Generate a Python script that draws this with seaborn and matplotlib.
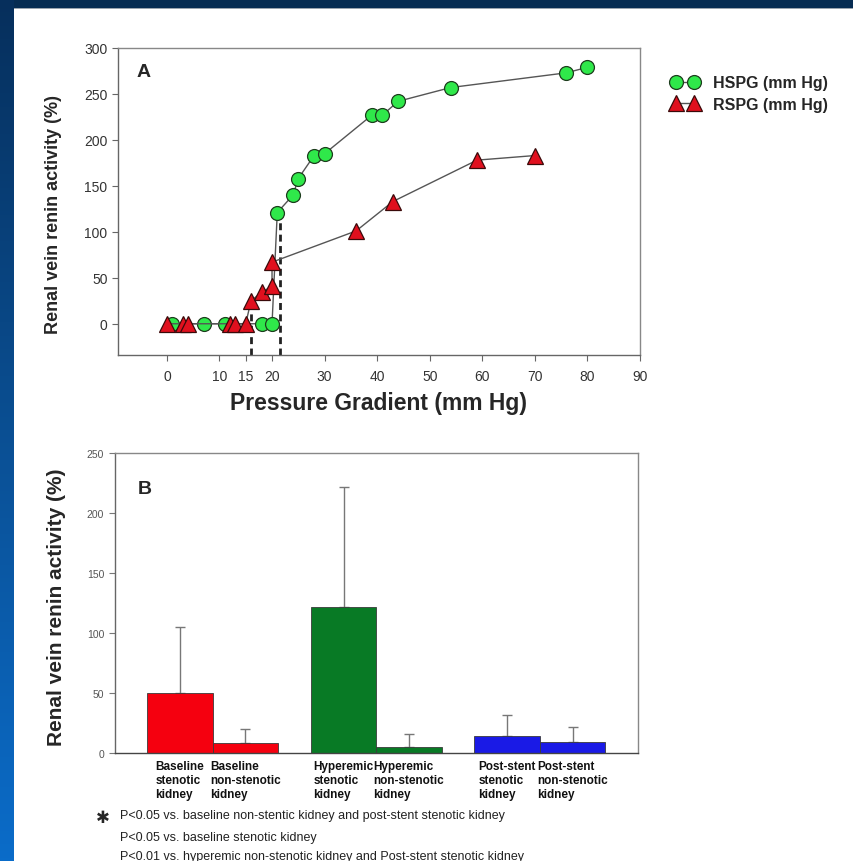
import numpy as np
import pandas as pd
import matplotlib
matplotlib.use("Agg")
import matplotlib.pyplot as plt
import seaborn as sns
from matplotlib.patches import Rectangle
from matplotlib.colors import LinearSegmentedColormap

# ---------------- data ----------------
hspg_x = [1, 7, 11, 18, 20, 21, 24, 25, 28, 30, 39, 41, 44, 54, 76, 80]
hspg_y = [0, 0, 0, 0, 0, 121, 140, 158, 183, 185, 227, 227, 242, 257, 273, 279]
rspg_x = [0, 3, 4, 12, 13, 15, 16, 18, 20, 20, 36, 43, 59, 70]
rspg_y = [0, 0, 0, 0, 0, 0, 25, 34, 41, 67, 101, 133, 178, 183]
thresholds_x = [16, 21.5]
threshold_tops = [25, 121]
xticks_a = [0, 10, 15, 20, 30, 40, 50, 60, 70, 80, 90]
yticks_a = [0, 50, 100, 150, 200, 250, 300]

bar_labels = ["Baseline\nstenotic\nkidney", "Baseline\nnon-stenotic\nkidney",
              "Hyperemic\nstenotic\nkidney", "Hyperemic\nnon-stenotic\nkidney",
              "Post-stent\nstenotic\nkidney", "Post-stent\nnon-stenotic\nkidney"]
bar_pos = [0, 1, 2.5, 3.5, 5, 6]
bar_vals = [50, 8, 122, 5, 14, 9]
bar_err = [55, 12, 100, 11, 18, 13]
bar_colors = ["#f5000f", "#f5000f", "#087a25", "#087a25", "#1a1ae6", "#1a1ae6"]
yticks_b = [0, 50, 100, 150, 200, 250]

footnotes = ["P<0.05 vs. baseline non-stentic kidney and post-stent stenotic kidney",
             "P<0.05 vs. baseline stenotic kidney",
             "P<0.01 vs. hyperemic non-stenotic kidney and Post-stent stenotic kidney"]

# ---------------- figure ----------------
sns.set_theme(style="white")
plt.rcParams["font.family"] = ["Liberation Sans", "DejaVu Sans"]

W, H = 854, 862
fig = plt.figure(figsize=(W / 100, H / 100), dpi=100)
fig.patch.set_facecolor("white")

# frame decoration
fig.add_artist(Rectangle((0, 1 - 9 / H), 1, 9 / H, transform=fig.transFigure,
                         facecolor="#062c52", edgecolor="none", zorder=0))
fig.add_artist(Rectangle((0, 1 - 10 / H), 1, 1.2 / H, transform=fig.transFigure,
                         facecolor="#9aa4ae", edgecolor="none", zorder=0))
band = fig.add_axes([0, 0, 14 / W, 1], zorder=0)
cmap = LinearSegmentedColormap.from_list("band", ["#0a6cc9", "#0a4f93", "#062f5c"])
band.imshow(np.linspace(0, 1, 256).reshape(-1, 1), aspect="auto", cmap=cmap,
            origin="lower", extent=[0, 1, 0, 1])
band.set_axis_off()

def fx(px):
    return px / W

def fy(py):
    return 1 - py / H

# ---------------- panel A ----------------
axA = fig.add_axes([fx(118), fy(356), fx(640) - fx(118), fy(49) - fy(356)])
dfh = pd.DataFrame({"x": hspg_x, "y": hspg_y})
dfr = pd.DataFrame({"x": rspg_x, "y": rspg_y})
sns.lineplot(data=dfh, x="x", y="y", ax=axA, estimator=None, sort=False,
             color="#555555", lw=1.0, marker="o", markersize=10,
             markerfacecolor="#2fe84a", markeredgecolor="#1d3d1d",
             markeredgewidth=0.9, zorder=3)
sns.lineplot(data=dfr, x="x", y="y", ax=axA, estimator=None, sort=False,
             color="#555555", lw=1.0, marker="^", markersize=11,
             markerfacecolor="#e0101e", markeredgecolor="#3a0a0a",
             markeredgewidth=0.9, zorder=4)
for tx, tt in zip(thresholds_x, threshold_tops):
    axA.plot([tx, tx], [-34, tt], ls=(0, (2.5, 1.6)), color="#222222", lw=2.0, zorder=2)

axA.set_xlim(-9.3, 90)
axA.set_ylim(-34, 300)
axA.set_xticks(xticks_a)
axA.set_yticks(yticks_a)
axA.tick_params(axis="both", which="both", direction="out", length=4, width=0.8,
                color="#666666", labelsize=10, labelcolor="#333333",
                left=True, bottom=True)
axA.tick_params(axis="x", pad=6)
for s in axA.spines.values():
    s.set_color("#888888")
    s.set_linewidth(1.0)
axA.spines["left"].set_color("#666666")
axA.spines["bottom"].set_color("#666666")
axA.set_xlabel("Pressure Gradient (mm Hg)", fontsize=16.5, fontweight="bold", labelpad=6)
axA.set_ylabel("Renal vein renin activity (%)", fontsize=13, fontweight="bold")
axA.yaxis.set_label_coords(-0.108, 0.46)
axA.text(0.035, 0.925, "A", transform=axA.transAxes, fontsize=14, fontweight="bold",
         ha="left", va="center")

# legend (outside, right)
leg = axA.legend(handles=[axA.lines[0], axA.lines[1]],
                 labels=["HSPG (mm Hg)", "RSPG (mm Hg)"],
                 loc="upper left", bbox_to_anchor=(fx(657), fy(62)),
                 bbox_transform=fig.transFigure, frameon=False,
                 prop={"weight": "bold", "size": 11.5}, handlelength=1.7,
                 handletextpad=0.9, labelspacing=0.4, numpoints=2)

# ---------------- panel B ----------------
axB = fig.add_axes([fx(114.5), fy(754), fx(638) - fx(114.5), fy(454) - fy(754)])
dfb = pd.DataFrame({"pos": bar_pos, "val": bar_vals, "label": bar_labels})
sns.barplot(data=dfb, x="pos", y="val", hue="label", palette=bar_colors,
            native_scale=True, width=1.0, ax=axB, legend=False, saturation=1,
            edgecolor="#3a3a3a", linewidth=0.6, errorbar=None, zorder=2)
axB.errorbar(bar_pos, bar_vals, yerr=[np.zeros(len(bar_err)), bar_err], fmt="none",
             ecolor="#777777", elinewidth=1.0, capsize=3.5, capthick=1.0, zorder=1)
axB.set_xlim(-1.0, 7.0)
axB.set_ylim(0, 250)
axB.set_yticks(yticks_b)
axB.set_xticks(bar_pos)
axB.set_xticklabels(bar_labels, fontsize=8.5, fontweight="bold", ha="center",
                    multialignment="left", linespacing=1.2)
axB.tick_params(axis="y", direction="out", length=4, width=0.8, color="#777777",
                labelsize=7.5, labelcolor="#555555", left=True)
axB.tick_params(axis="x", length=0, pad=5, labelcolor="#111111")
for s in axB.spines.values():
    s.set_color("#888888")
    s.set_linewidth(1.0)
axB.spines["left"].set_color("#666666")
axB.spines["bottom"].set_color("#444444")
axB.set_xlabel("")
axB.set_ylabel("Renal vein renin activity (%)", fontsize=15, fontweight="bold")
axB.yaxis.set_label_coords(-0.093, 0.49)
axB.text(0.045, 0.88, "B", transform=axB.transAxes, fontsize=14, fontweight="bold",
         ha="left", va="center")

# footnotes
fig.text(fx(103), fy(818), "\u2731", fontsize=12, fontweight="bold", ha="center",
         va="center", family=["DejaVu Sans"])
for t, py in zip(footnotes, [816, 838, 857]):
    fig.text(fx(120), fy(py), t, fontsize=9, ha="left", va="center", color="#222222",
             family=["Liberation Sans Narrow", "Liberation Sans", "DejaVu Sans"])

fig.savefig("out.png", dpi=100, facecolor=fig.get_facecolor())
